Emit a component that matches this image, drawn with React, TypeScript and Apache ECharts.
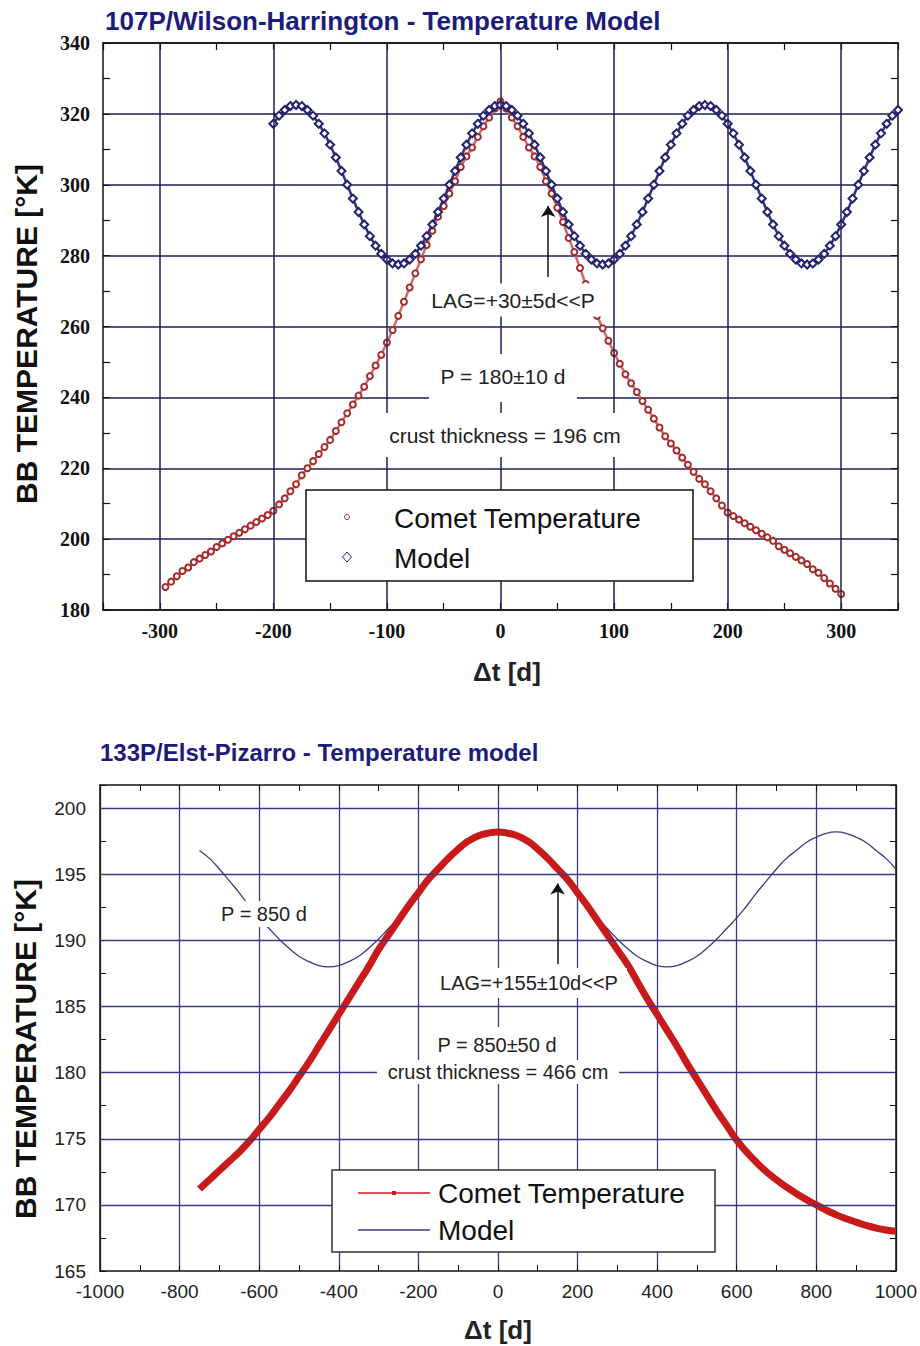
import React, { useEffect, useRef } from "react";
import * as echarts from "echarts";

// ---------- Top chart: 107P/Wilson-Harrington ----------
const topTitle = "107P/Wilson-Harrington - Temperature Model";
const topXGrid = [-300, -200, -100, 0, 100, 200, 300];
const topCometStart = -295;
const topCometStep = 5;
const topCometTemps = [
  186.5, 188, 189.5, 191, 192, 193.5, 194.5, 195.5, 196.5, 197.8,
  198.8, 199.8, 200.8, 201.8, 202.8, 203.8, 204.8, 205.8, 206.8, 208,
  209.8, 211.5, 213.5, 215.5, 218, 220, 222, 224, 226, 228,
  230.5, 233, 235.5, 238, 240.5, 243, 246, 249, 252, 255.5,
  259, 263, 267, 271, 275, 279, 283, 287, 291, 294,
  297.5, 301, 305, 308, 310.5, 313.5, 316.5, 319, 321.5, 323.5,
  321.5, 319, 316.5, 313.5, 310.5, 308, 305, 301, 297.5, 293.5,
  289.5, 285, 281, 276.5, 272, 267.5, 263, 259.5, 256, 252.5,
  249.5, 246.5, 244, 241.5, 239, 236.5, 234, 231.5, 229, 227,
  225, 223, 221, 219, 217, 215.5, 213.5, 211.5, 209.5, 207.5,
  206.5, 205.5, 204.5, 203.5, 202.5, 201.5, 200.5, 199.5, 198, 197,
  196, 195, 194, 193, 191.5, 190.5, 189, 187.5, 186, 184.5,
];
const topModelStart = -200;
const topModelStep = 5;
const topModelTemps = [
  317.2, 319.5, 321.1, 322.2, 322.5, 322.2, 321.1, 319.5, 317.2, 314.5,
  311.3, 307.7, 303.9, 300, 296.1, 292.3, 288.8, 285.5, 282.8, 280.5,
  278.9, 277.8, 277.5, 277.8, 278.9, 280.5, 282.8, 285.5, 288.8, 292.3,
  296.1, 300, 303.9, 307.7, 311.3, 314.5, 317.2, 319.5, 321.1, 322.2,
  322.5,
  322.2, 321.1, 319.5, 317.2, 314.5, 311.3, 307.7, 303.9, 300, 296.1,
  292.3, 288.8, 285.5, 282.8, 280.5, 278.9, 277.8, 277.5,
  277.8, 278.9, 280.5, 282.8, 285.5, 288.8, 292.3, 296.1, 300, 303.9,
  307.7, 311.3, 314.5, 317.2, 319.5, 321.1, 322.2, 322.5,
  322.2, 321.1, 319.5, 317.2, 314.5, 311.3, 307.7, 303.9, 300, 296.1,
  292.3, 288.8, 285.5, 282.8, 280.5, 278.9, 277.8, 277.5,
  277.8, 278.9, 280.5, 282.8, 285.5, 288.8, 292.3, 296.1, 300, 303.9,
  307.7, 311.3, 314.5, 317.2, 319.5, 321.1,
];
const topArrow = { day: 42, from: 274, to: 294 };

// ---------- Bottom chart: 133P/Elst-Pizarro ----------
const botTitle = "133P/Elst-Pizarro - Temperature model";
const botYGrid = [170, 175, 180, 185, 190, 195, 200];
const botStart = -750;
const botStep = 25;
const botCometTemps = [
  171.2, 171.9, 172.6, 173.3, 174.0, 174.8, 175.7, 176.6, 177.6, 178.6,
  179.7, 180.8, 182.0, 183.2, 184.4, 185.6, 186.8, 188.0, 189.3, 190.4,
  191.5, 192.6, 193.6, 194.6, 195.4, 196.2, 196.9, 197.5, 197.9, 198.1,
  198.2,
  198.1, 197.9, 197.5, 196.9, 196.2, 195.4, 194.6, 193.6, 192.6, 191.5,
  190.4, 189.3, 188.2, 186.9, 185.6, 184.4, 183.2, 182.0, 180.7, 179.5,
  178.3, 177.1, 176.0, 174.9, 174.0, 173.2, 172.5, 171.9, 171.35, 170.85,
  170.4, 170.0, 169.6, 169.25, 168.95, 168.7, 168.45, 168.25, 168.1, 168.0,
];
const botModelTemps = [
  196.8, 196.2, 195.4, 194.5, 193.6, 192.6, 191.7, 190.9, 190.1, 189.4,
  188.8, 188.4, 188.1, 188.0,
  188.1, 188.4, 188.8, 189.4, 190.1, 190.9, 191.7, 192.6, 193.6, 194.5,
  195.4, 196.2, 196.8, 197.4, 197.8, 198.1,
  198.2,
  198.1, 197.8, 197.4, 196.8, 196.2, 195.4, 194.5, 193.6, 192.6, 191.7,
  190.9, 190.1, 189.4, 188.8, 188.4, 188.1, 188.0,
  188.1, 188.4, 188.8, 189.4, 190.1, 190.9, 191.7, 192.6, 193.6, 194.5,
  195.4, 196.2, 196.8, 197.4, 197.8, 198.1, 198.2,
  198.1, 197.8, 197.4, 196.8, 196.2, 195.4,
];
const botArrow = { day: 150, from: 188.2, to: 194.3 };

const yTitle = "BB TEMPERATURE [°K]";
const xTitle = "Δt [d]";

const pairs = (start: number, step: number, vals: number[]) =>
  vals.map((v, i) => [start + i * step, v]);

const SANS = "Liberation Sans, Arial, sans-serif";
const SERIF = "Liberation Serif, Times New Roman, serif";
const TOP_GRID = "#1e1e58";
const BOT_GRID = "#3a3a82";
const NAVY_TITLE = "#1c1c7c";
const FRAME = "#111";

function boxText(text: string, cx: number, cy: number, w: number, h: number, size: number, dy = 0) {
  return [
    {
      type: "rect",
      z: 100,
      silent: true,
      shape: { x: cx - w / 2, y: cy - h / 2 + dy, width: w, height: h },
      style: { fill: "#fff" },
    },
    {
      type: "text",
      z: 101,
      silent: true,
      x: cx,
      y: cy,
      style: {
        text,
        fill: "#222",
        font: `${size}px ${SANS}`,
        align: "center",
        verticalAlign: "middle",
      },
    },
  ];
}

export default function App() {
  const ref = useRef<HTMLDivElement>(null);

  useEffect(() => {
    if (!ref.current) return;
    const chart = echarts.init(ref.current, undefined, { renderer: "svg" });

    const frameLine = { show: true, onZero: false, lineStyle: { color: FRAME, width: 1.5 } };

    const option: any = {
      animation: false,
      backgroundColor: "#fff",
      grid: [
        { left: 103, top: 43, width: 795, height: 567 },
        { left: 100, top: 785, width: 798, height: 486 },
      ],
      xAxis: [
        {
          gridIndex: 0, type: "value", position: "bottom",
          min: -350, max: 350, interval: 50,
          axisLine: frameLine,
          axisTick: { show: true, inside: true, length: 7, lineStyle: { color: FRAME, width: 1.2 } },
          axisLabel: {
            formatter: (v: number) => (v % 100 === 0 ? String(v) : ""),
            fontFamily: SERIF, fontWeight: "bold", fontSize: 20, color: "#111", margin: 11,
          },
          splitLine: { show: false },
        },
        {
          gridIndex: 0, type: "value", position: "top",
          min: -350, max: 350, interval: 50,
          axisLine: frameLine,
          axisTick: { show: true, inside: true, length: 7, lineStyle: { color: FRAME, width: 1.2 } },
          axisLabel: { show: false },
          splitLine: { show: false },
        },
        {
          gridIndex: 1, type: "value", position: "bottom",
          min: -1000, max: 1000, interval: 200,
          axisLine: frameLine,
          axisTick: { show: true, inside: true, length: 6, lineStyle: { color: FRAME } },
          minorTick: { show: true, splitNumber: 2, length: 6, lineStyle: { color: FRAME } },
          axisLabel: { formatter: (v: number) => String(v), fontFamily: SANS, fontSize: 19, color: "#222", margin: 11 },
          splitLine: { show: true, lineStyle: { color: BOT_GRID, width: 1.3 } },
        },
        {
          gridIndex: 1, type: "value", position: "top",
          min: -1000, max: 1000, interval: 200,
          axisLine: frameLine,
          axisTick: { show: true, inside: true, length: 6, lineStyle: { color: FRAME } },
          minorTick: { show: true, splitNumber: 2, length: 6, lineStyle: { color: FRAME } },
          axisLabel: { show: false },
          splitLine: { show: false },
        },
      ],
      yAxis: [
        {
          gridIndex: 0, type: "value", position: "left",
          min: 180, max: 340, interval: 20,
          axisLine: frameLine,
          axisTick: { show: true, inside: true, length: 7, lineStyle: { color: FRAME } },
          minorTick: { show: true, splitNumber: 2, length: 7, lineStyle: { color: FRAME, width: 1.2 } },
          axisLabel: { fontFamily: SERIF, fontWeight: "bold", fontSize: 20, color: "#111", margin: 13 },
          splitLine: { show: true, lineStyle: { color: TOP_GRID, width: 1.5 } },
        },
        {
          gridIndex: 0, type: "value", position: "right",
          min: 180, max: 340, interval: 20,
          axisLine: frameLine,
          axisTick: { show: true, inside: true, length: 7, lineStyle: { color: FRAME } },
          minorTick: { show: true, splitNumber: 2, length: 7, lineStyle: { color: FRAME, width: 1.2 } },
          axisLabel: { show: false },
          splitLine: { show: false },
        },
        {
          gridIndex: 1, type: "value", position: "left",
          min: 165, max: 201.75, interval: 2.5,
          axisLine: frameLine,
          axisTick: { show: true, inside: true, length: 6, lineStyle: { color: FRAME } },
          axisLabel: {
            formatter: (v: number) => (v % 5 === 0 ? String(v) : ""),
            fontFamily: SANS, fontSize: 19, color: "#222", margin: 14,
          },
          splitLine: { show: false },
        },
        {
          gridIndex: 1, type: "value", position: "right",
          min: 165, max: 201.75, interval: 2.5,
          axisLine: frameLine,
          axisTick: { show: true, inside: true, length: 6, lineStyle: { color: FRAME } },
          axisLabel: { show: false },
          splitLine: { show: false },
        },
      ],
      series: [
        // top vertical grid lines
        {
          type: "line", xAxisIndex: 0, yAxisIndex: 0, data: [], z: 1, silent: true,
          markLine: {
            silent: true, symbol: ["none", "none"], label: { show: false },
            lineStyle: { color: TOP_GRID, width: 1.5, type: "solid" },
            data: topXGrid.map((v) => ({ xAxis: v })),
          },
        },
        {
          name: "Comet Temperature", type: "line", xAxisIndex: 0, yAxisIndex: 0, z: 3,
          data: pairs(topCometStart, topCometStep, topCometTemps),
          symbol: "emptyCircle", symbolSize: 6, showSymbol: true,
          lineStyle: { color: "#cf6a6a", width: 2.5 },
          itemStyle: { color: "#a52a2a", borderWidth: 1.2 },
        },
        {
          name: "Model", type: "line", xAxisIndex: 0, yAxisIndex: 0, z: 4,
          data: pairs(topModelStart, topModelStep, topModelTemps),
          symbol: "emptyDiamond", symbolSize: 8, showSymbol: true,
          lineStyle: { color: "#30307a", width: 2.5 },
          itemStyle: { color: "#22226e", borderWidth: 1.2 },
        },
        {
          type: "line", xAxisIndex: 0, yAxisIndex: 0, data: [], z: 6, silent: true,
          markLine: {
            silent: true, symbol: ["none", "arrow"], symbolSize: 11, label: { show: false },
            lineStyle: { color: "#111", width: 1.5, type: "solid" },
            data: [[{ coord: [topArrow.day, topArrow.from] }, { coord: [topArrow.day, topArrow.to] }]],
          },
        },
        // bottom horizontal grid lines
        {
          type: "line", xAxisIndex: 2, yAxisIndex: 2, data: [], z: 1, silent: true,
          markLine: {
            silent: true, symbol: ["none", "none"], label: { show: false },
            lineStyle: { color: BOT_GRID, width: 1.3, type: "solid" },
            data: botYGrid.map((v) => ({ yAxis: v })),
          },
        },
        {
          name: "Model", type: "line", xAxisIndex: 2, yAxisIndex: 2, z: 3,
          data: pairs(botStart, botStep, botModelTemps),
          showSymbol: false, smooth: true,
          lineStyle: { color: "#3a3a82", width: 1.3 },
          itemStyle: { color: "#3a3a82" },
        },
        {
          name: "Comet Temperature", type: "line", xAxisIndex: 2, yAxisIndex: 2, z: 4,
          data: pairs(botStart, botStep, botCometTemps),
          showSymbol: false, smooth: true,
          lineStyle: { color: "#c81a1a", width: 7 },
          itemStyle: { color: "#c81a1a" },
        },
        {
          type: "line", xAxisIndex: 2, yAxisIndex: 2, data: [], z: 6, silent: true,
          markLine: {
            silent: true, symbol: ["none", "arrow"], symbolSize: 11, label: { show: false },
            lineStyle: { color: "#111", width: 1.5, type: "solid" },
            data: [[{ coord: [botArrow.day, botArrow.from] }, { coord: [botArrow.day, botArrow.to] }]],
          },
        },
      ],
      graphic: [
        // titles
        {
          type: "text", z: 101, x: 105, y: 21,
          style: { text: topTitle, fill: NAVY_TITLE, font: `bold 26px ${SANS}`, verticalAlign: "middle" },
        },
        {
          type: "text", z: 101, x: 100, y: 752,
          style: { text: botTitle, fill: NAVY_TITLE, font: `bold 24px ${SANS}`, verticalAlign: "middle" },
        },
        // y titles
        {
          type: "text", z: 101, x: 26, y: 334, rotation: Math.PI / 2,
          style: { text: yTitle, fill: "#111", font: `bold 30px ${SANS}`, align: "center", verticalAlign: "middle" },
        },
        {
          type: "text", z: 101, x: 25, y: 1049, rotation: Math.PI / 2,
          style: { text: yTitle, fill: "#111", font: `bold 30px ${SANS}`, align: "center", verticalAlign: "middle" },
        },
        // x titles
        {
          type: "text", z: 101, x: 507, y: 672,
          style: { text: xTitle, fill: "#222", font: `bold 26px ${SANS}`, align: "center", verticalAlign: "middle" },
        },
        {
          type: "text", z: 101, x: 498, y: 1330,
          style: { text: xTitle, fill: "#222", font: `bold 26px ${SANS}`, align: "center", verticalAlign: "middle" },
        },
        // top annotations
        ...boxText("LAG=+30±5d<<P", 513, 300, 180, 33, 21),
        ...boxText("P = 180±10 d", 503, 376, 148, 48, 21, 2),
        ...boxText("crust thickness = 196 cm", 505, 435, 256, 44, 21),
        // bottom annotations
        ...boxText("P = 850 d", 264, 914, 98, 26, 20),
        ...boxText("LAG=+155±10d<<P", 529, 983, 196, 30, 20),
        ...boxText("P = 850±50 d", 497, 1045, 132, 36, 20),
        ...boxText("crust thickness = 466 cm", 498, 1072, 242, 24, 20),
        // top legend
        {
          type: "rect", z: 100, shape: { x: 306, y: 490, width: 387, height: 91 },
          style: { fill: "#fff", stroke: "#111", lineWidth: 1.5 },
        },
        {
          type: "circle", z: 101, shape: { cx: 347, cy: 517, r: 2.5 },
          style: { fill: "#fff", stroke: "#a52a2a", lineWidth: 1 },
        },
        {
          type: "polygon", z: 101, shape: { points: [[347, 552], [351.5, 557], [347, 562], [342.5, 557]] },
          style: { fill: "#fff", stroke: "#22226e", lineWidth: 1 },
        },
        {
          type: "text", z: 101, x: 394, y: 518,
          style: { text: "Comet Temperature", fill: "#111", font: `28px ${SANS}`, verticalAlign: "middle" },
        },
        {
          type: "text", z: 101, x: 394, y: 558,
          style: { text: "Model", fill: "#111", font: `28px ${SANS}`, verticalAlign: "middle" },
        },
        // bottom legend
        {
          type: "rect", z: 100, shape: { x: 332, y: 1170, width: 383, height: 82 },
          style: { fill: "#fff", stroke: "#333", lineWidth: 1.5 },
        },
        {
          type: "line", z: 101, shape: { x1: 358, y1: 1193, x2: 430, y2: 1193 },
          style: { stroke: "#c81a1a", lineWidth: 1.5 },
        },
        {
          type: "rect", z: 102, shape: { x: 392, y: 1191, width: 4, height: 4 },
          style: { fill: "#c81a1a" },
        },
        {
          type: "line", z: 101, shape: { x1: 358, y1: 1230, x2: 430, y2: 1230 },
          style: { stroke: "#3a3a82", lineWidth: 1.5 },
        },
        {
          type: "text", z: 101, x: 438, y: 1193,
          style: { text: "Comet Temperature", fill: "#111", font: `28px ${SANS}`, verticalAlign: "middle" },
        },
        {
          type: "text", z: 101, x: 438, y: 1230,
          style: { text: "Model", fill: "#111", font: `28px ${SANS}`, verticalAlign: "middle" },
        },
      ],
    };

    chart.setOption(option);
    return () => chart.dispose();
  }, []);

  return (
    <div
      ref={ref}
      style={{ position: "absolute", left: 0, top: 0, width: 920, height: 1346, background: "#fff" }}
    />
  );
}
